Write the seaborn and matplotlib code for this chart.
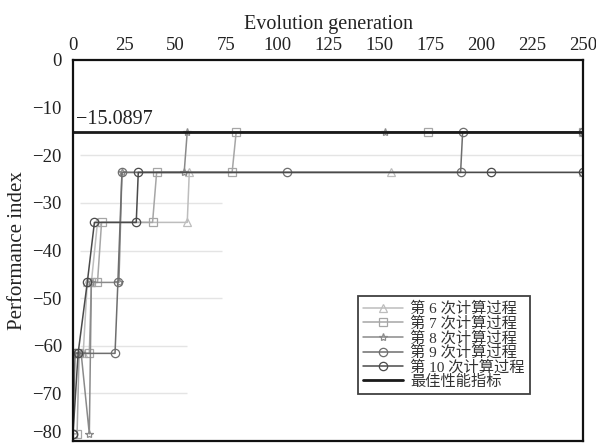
import matplotlib
matplotlib.use("Agg")
import matplotlib.pyplot as plt
import matplotlib.transforms as mtransforms
import seaborn as sns
import pandas as pd

sns.set_theme(style="white")
plt.rcParams['font.family'] = ['Liberation Serif', 'Noto Sans CJK SC', 'DejaVu Sans']
plt.rcParams['axes.unicode_minus'] = True

# ---- data ----
labels = ["第 6 次计算过程", "第 7 次计算过程", "第 8 次计算过程",
          "第 9 次计算过程", "第 10 次计算过程"]
s6_x = [0, 5, 7, 9, 12, 56, 57, 156, 250]
s6_y = [-61.6, -61.6, -46.7, -46.7, -34.1, -34.1, -23.6, -23.6, -23.6]
s7_x = [0, 2, 3, 8, 9, 12, 14, 39, 41, 78, 80, 174, 250]
s7_y = [-78.5, -78.5, -61.6, -61.6, -46.7, -46.7, -34.1, -34.1, -23.6, -23.6, -15.09, -15.09, -15.09]
s8_x = [0, 4, 8, 9, 22.5, 24, 54.5, 56, 153, 250]
s8_y = [-61.6, -61.6, -78.5, -46.7, -46.7, -23.6, -23.6, -15.09, -15.09, -15.09]
s9_x = [0, 1, 20.6, 22, 24, 105, 190, 191, 250]
s9_y = [-78.5, -61.6, -61.6, -46.7, -23.6, -23.6, -23.6, -15.09, -15.09]
s10_x = [0, 2.5, 7, 10.5, 31, 32, 205, 250]
s10_y = [-78.5, -61.6, -46.7, -34.1, -34.1, -23.6, -23.6, -23.6]
best_label = "最佳性能指标"
best_value = -15.0897
x_ticks = [0, 25, 50, 75, 100, 125, 150, 175, 200, 225, 250]
y_ticks = [0, -10, -20, -30, -40, -50, -60, -70, -80]

series_x = [s6_x, s7_x, s8_x, s9_x, s10_x]
series_y = [s6_y, s7_y, s8_y, s9_y, s10_y]

# ---- styles ----
colors = ["#bdbdbd", "#a6a6a6", "#8a8a8a", "#6e6e6e", "#4a4a4a"]
markers = ["^", "s", "*", "o", "o"]
msizes = [6, 6, 6, 6, 6]

fig = plt.figure(figsize=(5.96, 4.45), dpi=100)
ax = fig.add_axes([73/596, 4/445, 510/596, 381/445])

# faint partial grid lines (as in reference)
grid_levels = [-20, -30, -40, -50, -60, -70]
grid_ends = [250, 73, 73, 73, 56, 56]
for lv, xe in zip(grid_levels, grid_ends):
    ax.hlines(lv, 3.5, xe, color="#e4e4e4", lw=1.0, zorder=0)

for lab, xs, ys, c, m, ms in zip(labels, series_x, series_y, colors, markers, msizes):
    df = pd.DataFrame({"x": xs, "y": ys})
    sns.lineplot(data=df, x="x", y="y", ax=ax, sort=False, estimator=None,
                 color=c, lw=1.1, marker=m, markersize=ms,
                 markerfacecolor="none", markeredgecolor=c, markeredgewidth=0.9,
                 label=lab)

best_df = pd.DataFrame({"x": [x_ticks[0], x_ticks[-1]], "y": [best_value, best_value]})
sns.lineplot(data=best_df, x="x", y="y", ax=ax, sort=False, estimator=None,
             color="#1a1a1a", lw=2.0, label=best_label)

ax.text(1.5, best_value + 0.7, "\u2212%.4f" % abs(best_value), fontsize=14.5,
        ha="left", va="bottom", color="#222222")

ax.set_xlim(0, 250)
ax.set_ylim(-80, 0)
ax.set_xticks(x_ticks)
ax.set_yticks(y_ticks)
ax.set_yticklabels([("\u2212%d" % abs(v)) if v < 0 else "0" for v in y_ticks])
ax.xaxis.tick_top()
ax.xaxis.set_label_position("top")
ax.set_xlabel("Evolution generation", fontsize=14.5, labelpad=6, color="#222222")
ax.set_ylabel("Performance index", fontsize=15, labelpad=4, color="#222222")
ax.tick_params(axis="both", labelsize=13.5, length=0, colors="#222222")
ax.tick_params(axis="x", pad=4)
ax.tick_params(axis="y", pad=8)
for sp in ax.spines.values():
    sp.set_color("#111111")
    sp.set_linewidth(1.6)
ax.grid(False)

# raise the lowest y tick label so it stays inside the figure (as in reference)
fig.canvas.draw()
last = ax.get_yticklabels()[-1]
last.set_transform(last.get_transform() + mtransforms.ScaledTranslation(0, 10/100, fig.dpi_scale_trans))

leg = ax.legend(loc="upper left", bbox_to_anchor=(358/596, 1 - 296/445),
                bbox_transform=fig.transFigure, fontsize=11, frameon=True,
                fancybox=False, edgecolor="#111111", handlelength=2.6,
                labelspacing=0.0, borderpad=0.35, handletextpad=0.45,
                borderaxespad=0)
leg.get_frame().set_linewidth(1.3)
for t in leg.get_texts():
    t.set_color("#333333")

fig.savefig("out.png", dpi=100)
